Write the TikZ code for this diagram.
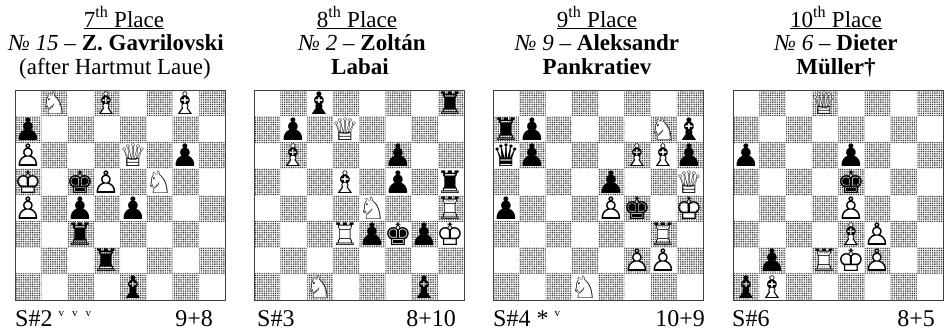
\documentclass[tikz,border=0pt]{standalone}
\usepackage{fontspec}
\setmainfont{Liberation Serif}
\newfontfamily\chessfont{DejaVu Sans}
\usetikzlibrary{patterns.meta}
\newcommand\whitepc[2]{\makebox[0pt]{\textcolor{white}{#2}}\makebox[0pt]{#1}}
\newcommand\pcK{\whitepc{♔}{♚}}
\newcommand\pcQ{\whitepc{♕}{♛}}
\newcommand\pcR{\whitepc{♖}{♜}}
\newcommand\pcB{\whitepc{♗}{♝}}
\newcommand\pcN{\whitepc{♘}{♞}}
\newcommand\pcP{\whitepc{♙}{♟}}
\newcommand\pck{\makebox[0pt]{♚}}
\newcommand\pcq{\makebox[0pt]{♛}}
\newcommand\pcr{\makebox[0pt]{♜}}
\newcommand\pcb{\makebox[0pt]{♝}}
\newcommand\pcn{\makebox[0pt]{♞}}
\newcommand\pcp{\makebox[0pt]{♟}}
\newcommand\tinyv{\raisebox{10pt}{\fontsize{11}{11}\selectfont v}}
\tikzset{
  piece/.style={inner sep=0pt, font=\chessfont\fontsize{31}{31}\selectfont},
  title/.style={inner sep=0pt, anchor=base, font=\fontsize{23}{24}\selectfont},
  foot/.style={inner sep=0pt, font=\fontsize{24}{24}\selectfont},
  darksq/.style={pattern={Dots[radius=0.6pt, distance=1.8pt]}, pattern color=black!90},
  frame/.style={draw=black!75, line width=1pt}
}
\newcommand\drawboard[3]{%
  \foreach \i in {1,...,8}{\foreach \j in {1,...,8}{%
    \pgfmathtruncatemacro\sqodd{mod(\i+\j,2)}%
    \ifnum\sqodd=0
      \fill[darksq] ({#1+(\i-1)*26.25},{-300+(\j-1)*26.25}) rectangle ++(26.25,26.25);
    \fi}}
  \draw[frame] (#1,-90) rectangle ({#1+210},-300);
  \foreach \p/\f/\r in {#3}{%
    \node[piece] (pc#2\f\r) at ({#1+(\f-0.5)*26.25},{-90-(8.5-\r)*26.25}) {\csname pc\p\endcsname};}
}
\begin{document}
\begin{tikzpicture}[x=1pt,y=1pt]
\useasboundingbox (0,0) rectangle (944,-335);
% board 1
\drawboard{15}{a}{N/2/8,B/4/8,B/7/8,Q/5/6,K/1/5,P/4/5,N/6/5,P/1/6,P/1/4,p/1/7,p/7/6,k/3/5,p/3/4,p/5/4,r/3/3,r/4/2,b/5/1}
% board 2
\drawboard{254}{b}{Q/4/7,B/2/6,B/4/5,N/5/4,R/8/4,R/4/3,K/8/3,N/3/1,b/3/8,r/8/8,p/2/7,p/6/6,p/6/5,r/8/5,p/5/3,k/6/3,p/7/3,b/7/1}
% board 3
\drawboard{493}{c}{N/7/7,B/6/6,B/7/6,Q/8/5,P/5/4,K/8/4,R/7/3,P/6/2,P/7/2,N/4/1,r/1/7,p/2/7,b/8/7,q/1/6,p/2/6,p/8/6,p/5/5,p/1/4,k/6/4}
% board 4
\drawboard{733}{d}{Q/4/8,P/5/4,B/5/3,P/6/3,R/4/2,K/5/2,P/6/2,B/2/1,p/1/6,p/5/6,k/5/5,p/2/2,b/1/1}
% titles
\node[title] (t1a) at (124,-27) {\underline{7\textsuperscript{th} Place}};
\node[title] (t1b) at (116,-50) {\textit{№ 15} – \textbf{Z. Gavrilovski}};
\node[title] (t1c) at (115,-74) {(after Hartmut Laue)};
\node[title] (t2a) at (357,-27) {\underline{8\textsuperscript{th} Place}};
\node[title] (t2b) at (362,-50) {\textit{№ 2} – \textbf{Zoltán}};
\node[title] (t2c) at (360,-74) {\textbf{Labai}};
\node[title] (t3a) at (597,-27) {\underline{9\textsuperscript{th} Place}};
\node[title] (t3b) at (597,-50) {\textit{№ 9} – \textbf{Aleksandr}};
\node[title] (t3c) at (597,-74) {\textbf{Pankratiev}};
\node[title] (t4a) at (836,-27) {\underline{10\textsuperscript{th} Place}};
\node[title] (t4b) at (836,-50) {\textit{№ 6} – \textbf{Dieter}};
\node[title] (t4c) at (836,-74) {\textbf{Müller†}};
% footers
\node[foot, anchor=base west] (s1) at (15,-326) {S\#2 \tinyv\hspace{8pt}\tinyv\hspace{8pt}\tinyv};
\node[foot, anchor=base east] (m1) at (213,-326) {9+8};
\node[foot, anchor=base west] (s2) at (257,-326) {S\#3};
\node[foot, anchor=base east] (m2) at (456,-326) {8+10};
\node[foot, anchor=base west] (s3) at (493,-326) {S\#4 * \tinyv};
\node[foot, anchor=base east] (m3) at (705,-326) {10+9};
\node[foot, anchor=base west] (s4) at (732,-326) {S\#6};
\node[foot, anchor=base east] (m4) at (935,-326) {8+5};
\end{tikzpicture}
\end{document}
